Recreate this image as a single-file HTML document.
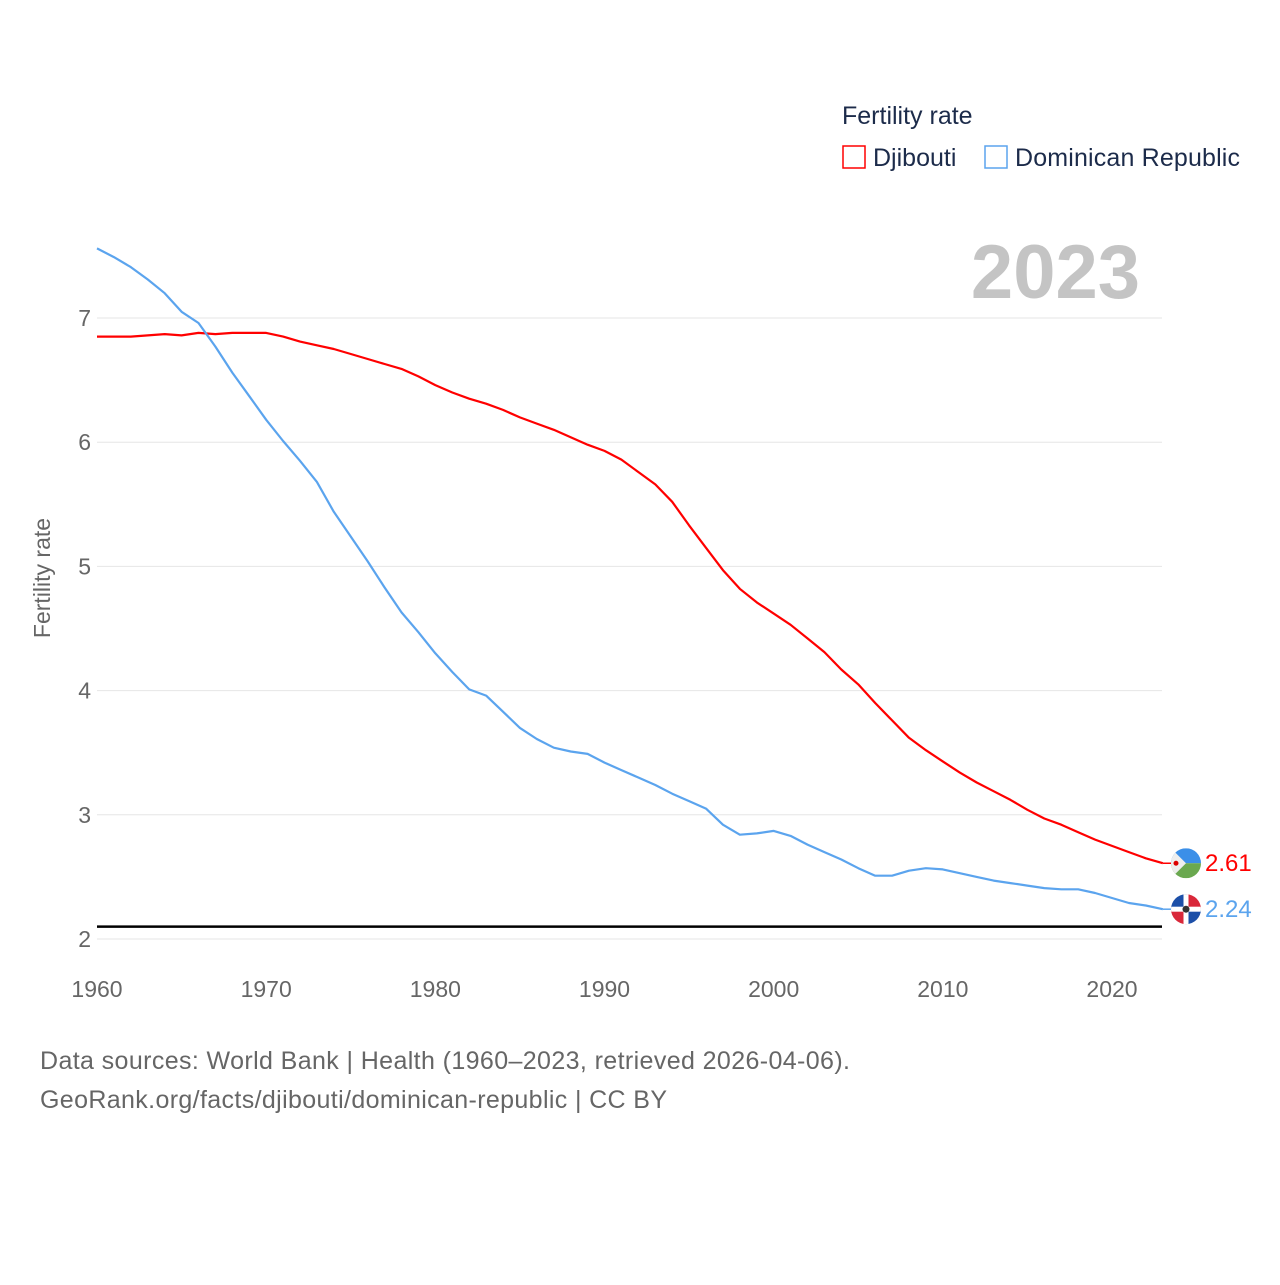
<!DOCTYPE html>
<html><head><meta charset="utf-8"><style>
body{margin:0;background:#fff;}
svg text{font-family:"Liberation Sans",sans-serif;}
</style></head><body>
<svg width="1280" height="1280" viewBox="0 0 1280 1280">
<g id="grid"></g>
<g id="plot"></g>
<text x="842" y="124" font-size="25" fill="#1c2b4a">Fertility rate</text>
<g>
<rect x="843" y="146" width="22" height="22" fill="#fff" stroke="#f00" stroke-width="1.5"/>
<text x="873" y="166" font-size="25" fill="#1c2b4a">Djibouti</text></g>
<g>
<rect x="985" y="146" width="22" height="22" fill="#fff" stroke="#5ba4ee" stroke-width="1.5"/>
<text x="1015" y="166" font-size="25" fill="#1c2b4a" textLength="225">Dominican Republic</text></g>
<text x="1140" y="298" font-size="76" font-weight="bold" fill="#c4c4c4" text-anchor="end">2023</text>
<text transform="translate(50,578) rotate(-90)" font-size="23" fill="#666" text-anchor="middle">Fertility rate</text>
<text x="40" y="1069" font-size="25" fill="#666" textLength="810">Data sources: World Bank | Health (1960–2023, retrieved 2026-04-06).</text>
<text x="40" y="1108" font-size="25" fill="#666" textLength="627">GeoRank.org/facts/djibouti/dominican-republic | CC BY</text>
</svg>
<script>
const years=[];for(let y=1960;y<=2023;y++)years.push(y);
const djibouti=[6.85,6.85,6.85,6.86,6.87,6.86,6.88,6.87,6.88,6.88,6.88,6.88,6.85,6.81,6.78,6.75,6.71,6.67,6.63,6.59,6.53,6.46,6.40,6.35,6.31,6.26,6.20,6.15,6.10,6.04,5.98,5.93,5.86,5.76,5.66,5.52,5.33,5.15,4.97,4.82,4.71,4.62,4.53,4.42,4.31,4.17,4.05,3.90,3.76,3.62,3.52,3.43,3.34,3.26,3.19,3.12,3.04,2.97,2.92,2.86,2.80,2.75,2.70,2.65,2.61];
const dominican=[7.56,7.49,7.41,7.31,7.20,7.05,6.96,6.77,6.56,6.37,6.18,6.01,5.85,5.68,5.44,5.24,5.04,4.83,4.63,4.47,4.30,4.15,4.01,3.96,3.83,3.70,3.61,3.54,3.51,3.49,3.42,3.36,3.30,3.24,3.17,3.11,3.05,2.92,2.84,2.85,2.87,2.83,2.76,2.70,2.64,2.57,2.51,2.51,2.55,2.57,2.56,2.53,2.50,2.47,2.45,2.43,2.41,2.40,2.40,2.37,2.33,2.29,2.27,2.24];
const yTicks=[2,3,4,5,6,7];
const xTicks=[1960,1970,1980,1990,2000,2010,2020];
const replacement=2.1;
const x=v=>97+(v-1960)*((1112-97)/60);
const y=v=>939-(v-2)*124.2;
const NS="http://www.w3.org/2000/svg";
function mk(t,a,p){const e=document.createElementNS(NS,t);for(const k in a)e.setAttribute(k,a[k]);p.appendChild(e);return e;}
const grid=document.getElementById('grid'),plot=document.getElementById('plot');
yTicks.forEach(t=>{
 const l=mk('line',{x1:97,x2:1162,y1:y(t),y2:y(t),stroke:'#e6e6e6','stroke-width':1},grid);
 
 
 const tx=mk('text',{x:91,y:y(t)+8,'font-size':23,fill:'#666','text-anchor':'end'},grid);
 tx.textContent=t;
 
 
});
xTicks.forEach(t=>{
 const tx=mk('text',{x:x(t),y:997,'font-size':23,fill:'#666','text-anchor':'middle'},grid);
 tx.textContent=t;
 
 
});
const rl=mk('line',{x1:97,x2:1162,y1:y(replacement),y2:y(replacement),stroke:'#000','stroke-width':2.5},plot);


function series(vals,color,name){
 const n=Math.min(vals.length,years.length);
 let d='';for(let i=0;i<n;i++)d+=(i?'L':'M')+x(years[i]).toFixed(1)+','+y(vals[i]).toFixed(1);
 const p=mk('path',{d:d,fill:'none',stroke:color,'stroke-width':2.2,'stroke-linejoin':'round'},plot);
 
 
 return [x(years[n-1]),y(vals[n-1]),vals[n-1]];
}
const dj=series(djibouti.filter((v,i)=>i!==8),'#f00','djibouti');
const dr=series(dominican,'#5ba4ee','dominican-republic');
function endLabel(e,color,name,flag){
 const ln=mk('line',{x1:e[0],y1:e[1],x2:1172,y2:e[1],stroke:color,'stroke-width':1.5},plot);
 
 
 const g=mk('g',{},plot);
 
 
 flag(g,1186,e[1]);
 const t=mk('text',{x:1205,y:e[1]+8,'font-size':24,fill:color},plot);
 t.textContent=e[2].toFixed(2);
 
 
}
endLabel(dj,'#f00','djibouti',(g,cx,cy)=>{
 const cp=mk('clipPath',{id:'c1'},g);mk('circle',{cx:cx,cy:cy,r:15},cp);
 const gg=mk('g',{'clip-path':'url(#c1)'},g);
 mk('rect',{x:cx-15,y:cy-15,width:30,height:15,fill:'#3b8fe8'},gg);
 mk('rect',{x:cx-15,y:cy,width:30,height:15,fill:'#6aa84f'},gg);
 mk('polygon',{points:`${cx-15},${cy-15} ${cx},${cy} ${cx-15},${cy+15}`,fill:'#eee'},gg);
 mk('circle',{cx:cx-10,cy:cy,r:2.5,fill:'#d00'},gg);
});
endLabel(dr,'#5ba4ee','dominican-republic',(g,cx,cy)=>{
 const cp=mk('clipPath',{id:'c2'},g);mk('circle',{cx:cx,cy:cy,r:15},cp);
 const gg=mk('g',{'clip-path':'url(#c2)'},g);
 mk('rect',{x:cx-15,y:cy-15,width:15,height:15,fill:'#1c4fa8'},gg);
 mk('rect',{x:cx,y:cy-15,width:15,height:15,fill:'#d9283a'},gg);
 mk('rect',{x:cx-15,y:cy,width:15,height:15,fill:'#d9283a'},gg);
 mk('rect',{x:cx,y:cy,width:15,height:15,fill:'#1c4fa8'},gg);
 mk('rect',{x:cx-2.5,y:cy-15,width:5,height:30,fill:'#fff'},gg);
 mk('rect',{x:cx-15,y:cy-2.5,width:30,height:5,fill:'#fff'},gg);
 mk('circle',{cx:cx,cy:cy,r:3.5,fill:'#333'},gg);
});
</script>
</body></html>
